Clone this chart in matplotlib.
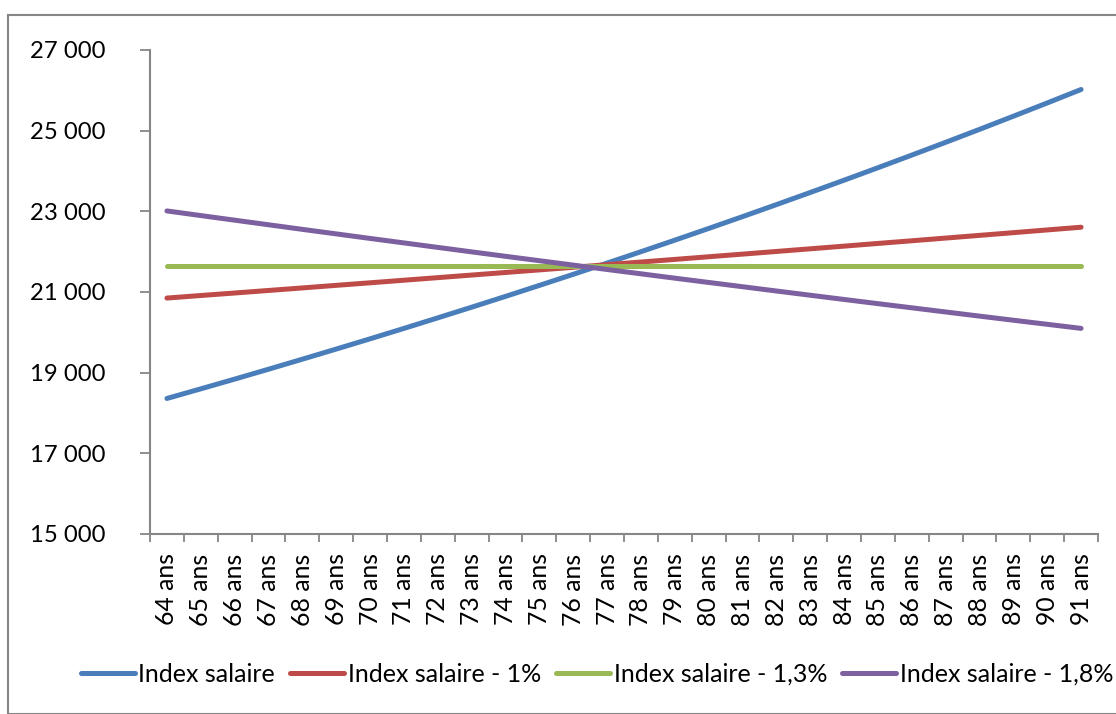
import matplotlib
matplotlib.use("Agg")
import matplotlib.pyplot as plt
from matplotlib.patches import Rectangle
from matplotlib.ticker import FixedLocator, FuncFormatter

ages = [f"{a} ans" for a in range(64, 92)]

index_salaire = [18360, 18599, 18840, 19085, 19334, 19585, 19839, 20097, 20359, 20623,
                 20891, 21163, 21438, 21717, 21999, 22285, 22575, 22868, 23166, 23467,
                 23772, 24081, 24394, 24711, 25032, 25358, 25687, 26021]
index_moins_1 = [20850, 20913, 20975, 21038, 21101, 21165, 21228, 21292, 21356, 21420,
                 21484, 21548, 21613, 21678, 21743, 21808, 21874, 21939, 22005, 22071,
                 22137, 22204, 22270, 22337, 22404, 22471, 22539, 22606]
index_moins_13 = [21640] * 28
index_moins_18 = [23010, 22895, 22781, 22667, 22553, 22441, 22328, 22217, 22106, 21995,
                  21885, 21776, 21667, 21558, 21451, 21343, 21237, 21131, 21025, 20920,
                  20815, 20711, 20608, 20505, 20402, 20300, 20199, 20098]

series_labels = ["Index salaire", "Index salaire - 1%", "Index salaire - 1,3%", "Index salaire - 1,8%"]
colors = ["#4A7EBB", "#BE4B48", "#98B954", "#7D60A0"]
y_ticks = [15000, 17000, 19000, 21000, 23000, 25000, 27000]

plt.rcParams['font.family'] = ['Lato', 'DejaVu Sans']
W, H = 1116, 714
fig = plt.figure(figsize=(W / 100, H / 100), dpi=100)

# outer chart border
fig.patches.append(Rectangle((8 / W, 0), 1.2, 1 - 15 / H, transform=fig.transFigure,
                             fill=False, edgecolor="#868686", linewidth=1.5, zorder=0))

ax = fig.add_axes([150 / W, 1 - 534 / H, (1098 - 150) / W, (534 - 50) / H])
x = list(range(len(ages)))
for data, lab, c in zip([index_salaire, index_moins_1, index_moins_13, index_moins_18], series_labels, colors):
    ax.plot(x, data, color=c, linewidth=3.6, label=lab, solid_capstyle='round')

ax.set_xlim(-0.5, len(ages) - 0.5)
ax.set_ylim(15000, 27000)
ax.yaxis.set_major_locator(FixedLocator(y_ticks))
ax.yaxis.set_major_formatter(FuncFormatter(lambda v, p: f"{int(v):,}".replace(",", " ")))

ax.xaxis.set_major_locator(FixedLocator([i - 0.5 for i in range(len(ages) + 1)]))
ax.xaxis.set_major_formatter(FuncFormatter(lambda v, p: ""))
ax.xaxis.set_minor_locator(FixedLocator(x))
ax.set_xticks(x, ages, minor=True)
ax.tick_params(axis='x', which='minor', length=0, labelsize=17.8, rotation=90, pad=14)
ax.tick_params(axis='x', which='major', length=6, width=1.3, color="#868686", direction='out')
ax.tick_params(axis='y', which='major', length=7, width=1.3, color="#868686", direction='out',
               labelsize=17.2, pad=25)

for s in ['top', 'right']:
    ax.spines[s].set_visible(False)
for s in ['left', 'bottom']:
    ax.spines[s].set_color("#868686")
    ax.spines[s].set_linewidth(1.5)

handles, labels = ax.get_legend_handles_labels()
fig.legend(handles, labels, loc='center', bbox_to_anchor=(597 / W, 1 - 674 / H), ncol=4,
           frameon=False, fontsize=18, handlelength=2.15, handletextpad=0.15,
           columnspacing=0.6, borderpad=0)

fig.savefig("out.png", dpi=100)
